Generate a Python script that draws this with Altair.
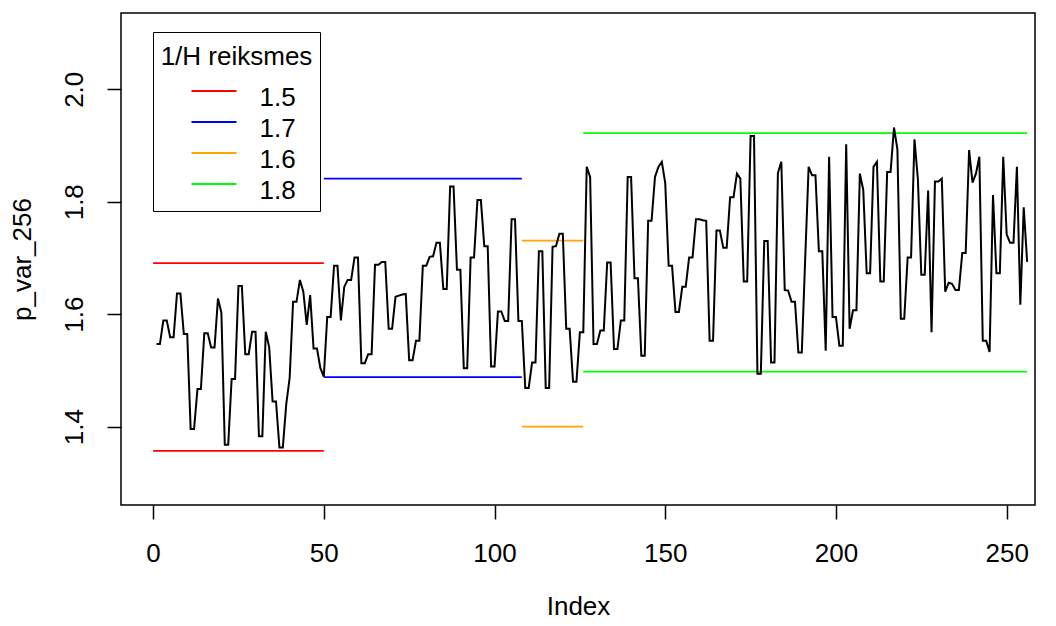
import altair as alt
import pandas as pd

# ---- data ----
p_var_256 = [
    1.547, 1.547, 1.589, 1.589, 1.559, 1.559, 1.637, 1.637, 1.565, 1.565,
    1.396, 1.396, 1.467, 1.467, 1.566, 1.566, 1.541, 1.541, 1.628, 1.603,
    1.368, 1.368, 1.485, 1.485, 1.650, 1.650, 1.529, 1.529, 1.569, 1.569,
    1.383, 1.383, 1.569, 1.541, 1.445, 1.445, 1.363, 1.363, 1.440, 1.487,
    1.622, 1.622, 1.661, 1.640, 1.581, 1.634, 1.539, 1.539, 1.504, 1.489,
    1.595, 1.595, 1.686, 1.686, 1.589, 1.649, 1.661, 1.661, 1.701, 1.701,
    1.513, 1.513, 1.529,
    1.529, 1.688, 1.688, 1.693, 1.693, 1.574, 1.574, 1.631, 1.633, 1.635,
    1.636, 1.518, 1.518, 1.553, 1.553, 1.686, 1.686, 1.702, 1.703, 1.727,
    1.727, 1.645, 1.645, 1.827, 1.827, 1.679, 1.679, 1.504, 1.504, 1.701,
    1.701,
    1.803, 1.803, 1.721, 1.721, 1.507, 1.507, 1.605, 1.605, 1.588, 1.588,
    1.769, 1.769, 1.588, 1.588, 1.469, 1.469, 1.514, 1.514, 1.712, 1.712,
    1.469, 1.469, 1.720, 1.721, 1.743, 1.743, 1.574, 1.574, 1.480, 1.480,
    1.568, 1.568, 1.862,
    1.844, 1.547, 1.547, 1.571, 1.571, 1.692, 1.692, 1.538, 1.538, 1.589,
    1.589, 1.844, 1.844, 1.664, 1.664, 1.526, 1.526, 1.766, 1.766, 1.844,
    1.862, 1.871, 1.833, 1.686, 1.686, 1.604, 1.604, 1.649, 1.649, 1.701,
    1.701, 1.769, 1.769,
    1.767, 1.766, 1.553, 1.553, 1.749, 1.749, 1.718, 1.718, 1.808, 1.808,
    1.850, 1.841, 1.658, 1.658, 1.917, 1.917, 1.494, 1.494, 1.730, 1.730,
    1.514, 1.514, 1.851, 1.871, 1.643, 1.642, 1.622, 1.622, 1.532, 1.532,
    1.700, 1.862,
    1.847, 1.847, 1.712, 1.712, 1.535, 1.880, 1.595, 1.595, 1.544, 1.544,
    1.902, 1.574, 1.607, 1.607, 1.850, 1.821, 1.673, 1.673, 1.862, 1.871,
    1.658, 1.658, 1.853, 1.853, 1.932, 1.893, 1.592, 1.592, 1.701, 1.701,
    1.911, 1.840,
    1.670, 1.670, 1.820, 1.568, 1.836, 1.836, 1.841, 1.640, 1.656, 1.654,
    1.643, 1.643, 1.709, 1.709, 1.892, 1.834, 1.850, 1.880, 1.553, 1.553,
    1.533, 1.812, 1.673, 1.673, 1.880, 1.742, 1.727, 1.727, 1.862, 1.617,
    1.790, 1.693,
]

h_labels = ["1.5", "1.7", "1.6", "1.8"]
h_colors = ["#FF0000", "#0000FF", "#FFA500", "#00FF00"]
seg_start = [0, 50, 108, 126]
seg_end = [50, 108, 126, 256]
seg_upper = [1.691, 1.841, 1.731, 1.922]
seg_lower = [1.357, 1.488, 1.400, 1.498]

x_ticks = [0, 50, 100, 150, 200, 250]
y_ticks = [1.4, 1.6, 1.8, 2.0]

# ---- tables ----
line_df = pd.DataFrame({"Index": list(range(1, len(p_var_256) + 1)),
                        "p_var_256": p_var_256})

seg_rows = []
for lab, s, e, u, l in zip(h_labels, seg_start, seg_end, seg_upper, seg_lower):
    seg_rows.append({"H": lab, "x": s, "x2": e, "y": u})
    seg_rows.append({"H": lab, "x": s, "x2": e, "y": l})
seg_df = pd.DataFrame(seg_rows)

FONT = "Liberation Sans"
FS = 26

x_scale = alt.Scale(domain=[-9.4, 258.3], nice=False, zero=False)
y_scale = alt.Scale(domain=[1.2608, 2.1356], nice=False, zero=False)

x_axis = alt.Axis(
    values=x_ticks, title="Index", grid=False, domain=False,
    tickSize=14, tickColor="black", tickWidth=1.5,
    labelFont=FONT, labelFontSize=FS, labelColor="black",
    labelBaseline="alphabetic", labelPadding=42, labelAlign="center",
    titleFont=FONT, titleFontSize=FS, titleFontWeight="normal", titleColor="black",
    titleX=457, titleY=109, titleBaseline="alphabetic", titleAlign="center",
)
y_axis = alt.Axis(
    values=y_ticks, format=".1f", title="p_var_256", grid=False, domain=False,
    tickSize=14, tickColor="black", tickWidth=1.5,
    labelFont=FONT, labelFontSize=FS, labelColor="black",
    labelAngle=270, labelAlign="center", labelBaseline="alphabetic", labelPadding=25,
    titleFont=FONT, titleFontSize=FS, titleFontWeight="normal", titleColor="black",
    titleAngle=270, titleX=-91, titleY=246, titleBaseline="alphabetic", titleAlign="center",
)

line = alt.Chart(line_df).mark_line(color="black", strokeWidth=2).encode(
    x=alt.X("Index:Q", scale=x_scale, axis=x_axis),
    y=alt.Y("p_var_256:Q", scale=y_scale, axis=y_axis),
)

segs = alt.Chart(seg_df).mark_rule(strokeWidth=1.8).encode(
    x=alt.X("x:Q", scale=x_scale),
    x2="x2:Q",
    y=alt.Y("y:Q", scale=y_scale),
    color=alt.Color(
        "H:N",
        scale=alt.Scale(domain=h_labels, range=h_colors),
        legend=alt.Legend(
            title="1/H reiksmes", orient="none", legendX=32, legendY=19,
            strokeColor="black", fillColor="white", padding=7.5,
            symbolType="M-1.3235,-0.382H1.3235", symbolSize=1156, symbolStrokeWidth=1.8,
            symbolOffset=18.5, labelOffset=27.5,
            labelFont=FONT, labelFontSize=FS, labelColor="black",
            titleFont=FONT, titleFontSize=FS, titleFontWeight="normal", titleColor="black",
            titleAnchor="middle", titleAlign="center",
            titleBaseline="line-top", titleLineHeight=35, titlePadding=14,
            rowPadding=-5.5,
        ),
    ),
)

chart = alt.layer(segs, line).properties(
    width=914, height=492,
    autosize=alt.AutoSizeParams(type="none"),
    padding={"left": 121, "top": 13, "right": 21, "bottom": 121},
    background="white",
).configure_view(stroke="black", strokeWidth=1.5)

chart.save("out.html", embed_options={"renderer": "svg", "actions": False})
